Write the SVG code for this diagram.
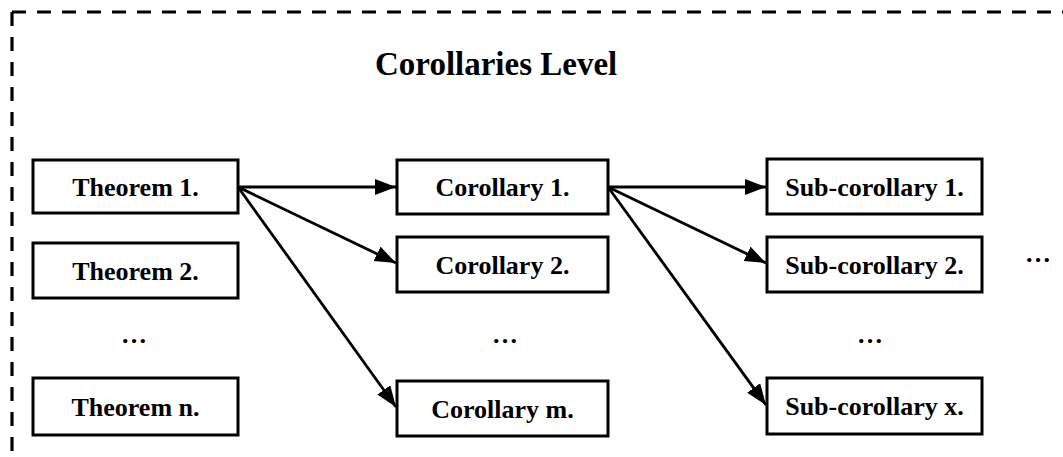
<svg xmlns="http://www.w3.org/2000/svg" width="1063" height="457" viewBox="0 0 1063 457">
  <style>
    .box { fill: #fff; stroke: #000; stroke-width: 3; }
    .lbl { font-family: "Liberation Serif", "Times New Roman", serif; font-weight: bold; font-size: 26px; text-anchor: middle; fill: #000; }
    .title { font-family: "Liberation Serif", "Times New Roman", serif; font-weight: bold; font-size: 33px; fill: #000; }
    .edge { fill: none; stroke: #000; stroke-width: 2.8; marker-end: url(#arrow); }
    .frame { fill: none; stroke: #000; stroke-width: 3.2; stroke-dasharray: 14 11; }
  </style>
  <defs>
    <marker id="arrow" markerUnits="userSpaceOnUse" markerWidth="24" markerHeight="18" refX="21" refY="8" orient="auto">
      <path d="M0,0 L21,8 L0,16 z" fill="#000"/>
    </marker>
  </defs>
  <rect width="1063" height="457" fill="#fff"/>

  <!-- dashed level frame, open to the right and bottom -->
  <g id="frame">
    <path class="frame" d="M12,12 H1075"/>
    <path class="frame" d="M12,12 V470"/>
  </g>

  <text class="title" x="375" y="75">Corollaries Level</text>

  <!-- theorems -->
  <g id="theorem1"><rect class="box" x="33" y="160" width="205" height="53"/><text class="lbl" x="135.5" y="196">Theorem 1.</text></g>
  <g id="theorem2"><rect class="box" x="33" y="243" width="205" height="55"/><text class="lbl" x="135.5" y="280">Theorem 2.</text></g>
  <g id="theorem-dots"><text class="lbl" x="134" y="343">…</text></g>
  <g id="theoremN"><rect class="box" x="33" y="378" width="205" height="57"/><text class="lbl" x="135.5" y="416">Theorem n.</text></g>

  <!-- corollaries -->
  <g id="corollary1"><rect class="box" x="397" y="160" width="211" height="54"/><text class="lbl" x="502.5" y="196">Corollary 1.</text></g>
  <g id="corollary2"><rect class="box" x="397" y="237" width="211" height="55"/><text class="lbl" x="502.5" y="274">Corollary 2.</text></g>
  <g id="corollary-dots"><text class="lbl" x="505" y="343">…</text></g>
  <g id="corollaryM"><rect class="box" x="397" y="381" width="211" height="55"/><text class="lbl" x="502.5" y="418">Corollary m.</text></g>

  <!-- sub-corollaries -->
  <g id="sub1"><rect class="box" x="767" y="159" width="215" height="55"/><text class="lbl" x="874.5" y="196">Sub-corollary 1.</text></g>
  <g id="sub2"><rect class="box" x="767" y="237" width="215" height="55"/><text class="lbl" x="874.5" y="274">Sub-corollary 2.</text></g>
  <g id="sub-dots"><text class="lbl" x="870" y="343">…</text></g>
  <g id="subX"><rect class="box" x="767" y="378" width="215" height="56"/><text class="lbl" x="874.5" y="415">Sub-corollary x.</text></g>
  <g id="more-dots"><text class="lbl" x="1038" y="262">…</text></g>

  <!-- connectors -->
  <g id="connectors">
    <path class="edge" d="M238,187 L396,187"/>
    <path class="edge" d="M238,187 L396,263"/>
    <path class="edge" d="M238,187 L396,407"/>
    <path class="edge" d="M608,187 L766,187"/>
    <path class="edge" d="M608,187 L766,263"/>
    <path class="edge" d="M608,187 L766,405"/>
  </g>
</svg>
